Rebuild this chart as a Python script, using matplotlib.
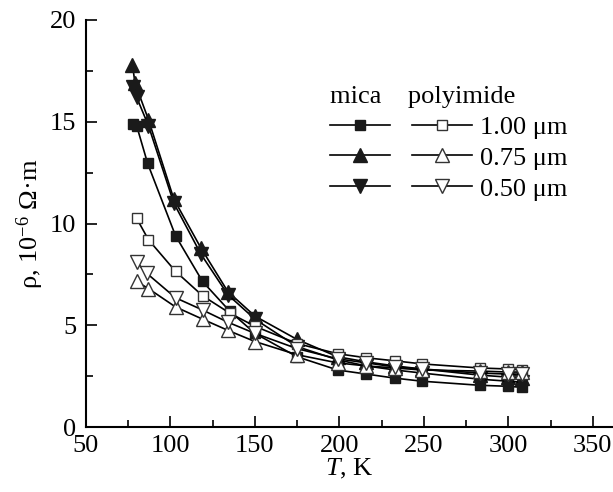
import matplotlib
matplotlib.use("Agg")
import matplotlib.pyplot as plt
from matplotlib.ticker import MultipleLocator

plt.rcParams['font.family'] = ['Liberation Serif', 'DejaVu Serif']
plt.rcParams['mathtext.fontset'] = 'custom'
plt.rcParams['mathtext.rm'] = 'Liberation Serif'
plt.rcParams['mathtext.it'] = 'Liberation Serif:italic'
FS = 19
plt.rcParams['font.size'] = FS

# ---- data (T in K, rho in 1e-6 Ohm*m) ----
T_mica_100 = [78, 80, 86.5, 103, 119, 135, 150, 175, 199, 216, 233, 249, 283, 300, 308]
rho_mica_100 = [14.9, 14.8, 12.95, 9.4, 7.15, 5.7, 4.6, 3.45, 2.8, 2.6, 2.4, 2.25, 2.05, 2.0, 1.95]

T_mica_075 = [77.5, 79, 87, 102, 118, 134, 150, 175, 199, 216, 233, 249, 283, 300, 308]
rho_mica_075 = [17.8, 16.9, 15.1, 11.2, 8.8, 6.65, 5.45, 4.3, 3.45, 3.2, 3.0, 2.85, 2.55, 2.45, 2.4]

T_mica_050 = [78, 80, 87, 102, 118, 134, 150, 175, 199, 216, 233, 249, 283, 300, 308]
rho_mica_050 = [16.7, 16.2, 14.8, 11.0, 8.5, 6.5, 5.3, 3.95, 3.3, 3.0, 2.8, 2.65, 2.35, 2.25, 2.2]

T_poly_100 = [80, 87, 103, 119, 135, 150, 175, 199, 216, 233, 249, 283, 300, 308]
rho_poly_100 = [10.25, 9.2, 7.65, 6.45, 5.6, 4.95, 4.1, 3.6, 3.4, 3.25, 3.1, 2.9, 2.85, 2.8]

T_poly_075 = [80, 87, 103, 119, 134, 150, 175, 199, 216, 233, 249, 283, 300, 308]
rho_poly_075 = [7.15, 6.8, 5.9, 5.3, 4.75, 4.2, 3.55, 3.15, 3.0, 2.9, 2.8, 2.75, 2.7, 2.7]

T_poly_050 = [80, 86, 103, 119, 134, 150, 175, 199, 216, 233, 249, 283, 300, 308]
rho_poly_050 = [8.1, 7.55, 6.35, 5.75, 5.15, 4.6, 3.85, 3.35, 3.15, 2.95, 2.85, 2.65, 2.6, 2.6]

labels = ['1.00 μm', '0.75 μm', '0.50 μm']
x_ticks = [50, 100, 150, 200, 250, 300, 350]
y_ticks = [0, 5, 10, 15, 20]

fig = plt.figure(figsize=(6.13, 4.92), dpi=100)
ax = fig.add_axes([86/613, 1-427/492, 527/613, 407/492])

lw = 1.2
ms_sq = 7.5
ms_tr = 9.5
h_m100, = ax.plot(T_mica_100, rho_mica_100, '-', color='black', lw=lw, marker='s', ms=ms_sq,
                  mfc='#1a1a1a', mec='#1a1a1a')
h_m075, = ax.plot(T_mica_075, rho_mica_075, '-', color='black', lw=lw, marker='^', ms=ms_tr,
                  mfc='#1a1a1a', mec='#1a1a1a')
h_m050, = ax.plot(T_mica_050, rho_mica_050, '-', color='black', lw=lw, marker='v', ms=ms_tr,
                  mfc='#1a1a1a', mec='#1a1a1a')
h_p100, = ax.plot(T_poly_100, rho_poly_100, '-', color='black', lw=lw, marker='s', ms=ms_sq,
                  mfc='white', mec='#333333', mew=1.0)
h_p075, = ax.plot(T_poly_075, rho_poly_075, '-', color='black', lw=lw, marker='^', ms=ms_tr,
                  mfc='white', mec='#333333', mew=1.0)
h_p050, = ax.plot(T_poly_050, rho_poly_050, '-', color='black', lw=lw, marker='v', ms=ms_tr,
                  mfc='white', mec='#333333', mew=1.0)

ax.set_xlim(50, 362)
ax.set_ylim(0, 20)
ax.set_xticks(x_ticks)
ax.set_yticks(y_ticks)
ax.xaxis.set_minor_locator(MultipleLocator(25))
ax.yaxis.set_minor_locator(MultipleLocator(2.5))
ax.tick_params(which='major', direction='in', length=8, width=1.2, labelsize=FS)
ax.tick_params(axis='x', which='major', pad=6)
ax.tick_params(axis='y', which='major', pad=7)
ax.tick_params(which='minor', direction='in', length=5, width=1.2)
for s in ['top', 'right']:
    ax.spines[s].set_visible(False)
for s in ['left', 'bottom']:
    ax.spines[s].set_linewidth(1.5)

ax.set_xlabel(r'$T$, K', fontsize=FS, labelpad=0)
ax.set_ylabel(r'ρ, 10$^{-6}$ Ω·m', fontsize=FS, labelpad=3)

leg = ax.legend([h_m100, h_m075, h_m050, h_p100, h_p075, h_p050],
                ['', '', '', labels[0], labels[1], labels[2]],
                ncol=2, loc='upper left', bbox_to_anchor=(0.463, 0.838),
                frameon=False, borderpad=0, borderaxespad=0,
                handlelength=2.27, handletextpad=0.3,
                columnspacing=0.53, labelspacing=0.28, fontsize=FS,
                title='mica    polyimide', title_fontsize=FS, alignment='left')

fig.savefig('out.png', dpi=100)
